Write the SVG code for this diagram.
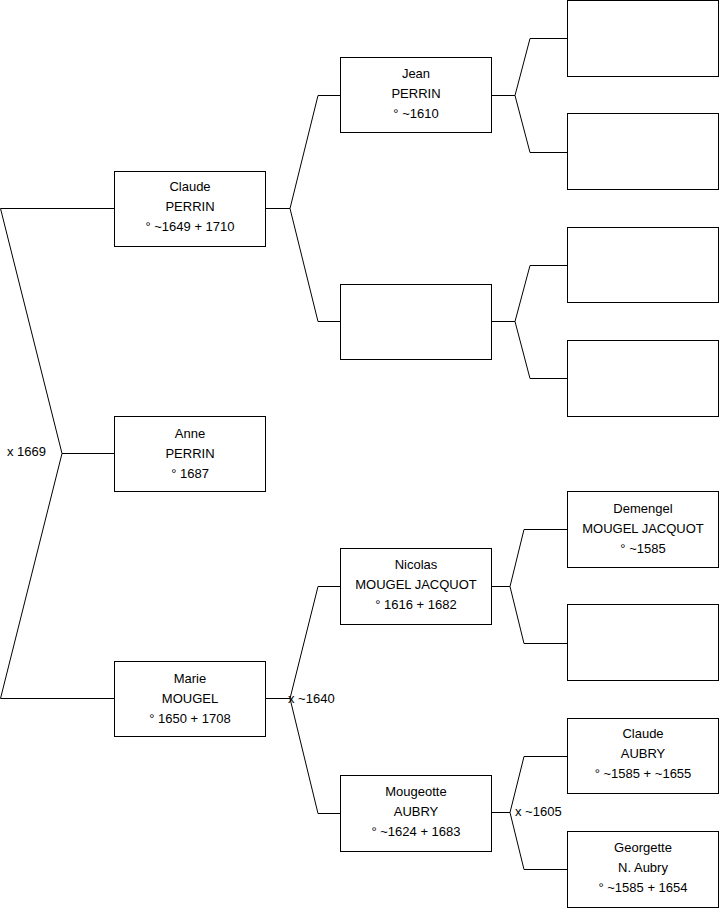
<svg xmlns="http://www.w3.org/2000/svg" width="719" height="908" viewBox="0 0 719 908">
<style>
.box{fill:#fff;stroke:#000;stroke-width:1}
.t{font-family:"Liberation Sans",Arial,sans-serif;font-size:13px;fill:#000;text-anchor:middle}
.l{font-family:"Liberation Sans",Arial,sans-serif;font-size:13px;fill:#000}
.c{fill:none;stroke:#000;stroke-width:1}
</style>
<rect width="719" height="908" fill="#fff"/>
<g id="connectors">
<path class="c" d="M114 208.5H0.5L62 453.5L0.5 698.5H114M62 453.5H114"/>
<path class="c" d="M265 208.5H290M340 95.5H318L290 208.5L318 321.5H340"/>
<path class="c" d="M265 698.5H290M340 586.5H318L290 698.5L318 813.5H340"/>
<path class="c" d="M491 95.5H515M567 38.5H530L515 95.5L530 152.5H567"/>
<path class="c" d="M491 321.5H515M567 265.5H530L515 321.5L530 378.5H567"/>
<path class="c" d="M491 586.5H510M567 529.5H524L510 586.5L524 643.5H567"/>
<path class="c" d="M491 812.5H510M567 756.5H524L510 812.5L524 869.5H567"/>
<text class="l" x="7" y="456">x 1669</text>
<text class="l" x="288" y="703">x ~1640</text>
<text class="l" x="515" y="816">x ~1605</text>
</g>
<g id="claude-perrin"><rect class="box" x="114.5" y="171.5" width="151" height="75"/>
<text class="t" x="190" y="191">Claude</text><text class="t" x="190" y="211">PERRIN</text><text class="t" x="190" y="231">° ~1649 + 1710</text></g>
<g id="anne-perrin"><rect class="box" x="114.5" y="416.5" width="151" height="75"/>
<text class="t" x="190" y="438">Anne</text><text class="t" x="190" y="458">PERRIN</text><text class="t" x="190" y="478">° 1687</text></g>
<g id="marie-mougel"><rect class="box" x="114.5" y="661.5" width="151" height="75"/>
<text class="t" x="190" y="683">Marie</text><text class="t" x="190" y="703">MOUGEL</text><text class="t" x="190" y="723">° 1650 + 1708</text></g>
<g id="jean-perrin"><rect class="box" x="340.5" y="57.5" width="151" height="75"/>
<text class="t" x="416" y="78">Jean</text><text class="t" x="416" y="98">PERRIN</text><text class="t" x="416" y="118">° ~1610</text></g>
<g id="empty-2"><rect class="box" x="340.5" y="284.5" width="151" height="75"/></g>
<g id="nicolas"><rect class="box" x="340.5" y="548.5" width="151" height="76"/>
<text class="t" x="416" y="569">Nicolas</text><text class="t" x="416" y="589">MOUGEL JACQUOT</text><text class="t" x="416" y="609">° 1616 + 1682</text></g>
<g id="mougeotte"><rect class="box" x="340.5" y="775.5" width="151" height="76"/>
<text class="t" x="416" y="796">Mougeotte</text><text class="t" x="416" y="816">AUBRY</text><text class="t" x="416" y="836">° ~1624 + 1683</text></g>
<g id="empty-3a"><rect class="box" x="567.5" y="0.5" width="151" height="76"/></g>
<g id="empty-3b"><rect class="box" x="567.5" y="113.5" width="151" height="76"/></g>
<g id="empty-3c"><rect class="box" x="567.5" y="227.5" width="151" height="75"/></g>
<g id="empty-3d"><rect class="box" x="567.5" y="340.5" width="151" height="76"/></g>
<g id="demengel"><rect class="box" x="567.5" y="491.5" width="151" height="76"/>
<text class="t" x="643" y="513">Demengel</text><text class="t" x="643" y="533">MOUGEL JACQUOT</text><text class="t" x="643" y="553">° ~1585</text></g>
<g id="empty-3f"><rect class="box" x="567.5" y="604.5" width="151" height="76"/></g>
<g id="claude-aubry"><rect class="box" x="567.5" y="718.5" width="151" height="75"/>
<text class="t" x="643" y="738">Claude</text><text class="t" x="643" y="758">AUBRY</text><text class="t" x="643" y="778">° ~1585 + ~1655</text></g>
<g id="georgette"><rect class="box" x="567.5" y="831.5" width="151" height="76"/>
<text class="t" x="643" y="852">Georgette</text><text class="t" x="643" y="872">N. Aubry</text><text class="t" x="643" y="892">° ~1585 + 1654</text></g>
</svg>
